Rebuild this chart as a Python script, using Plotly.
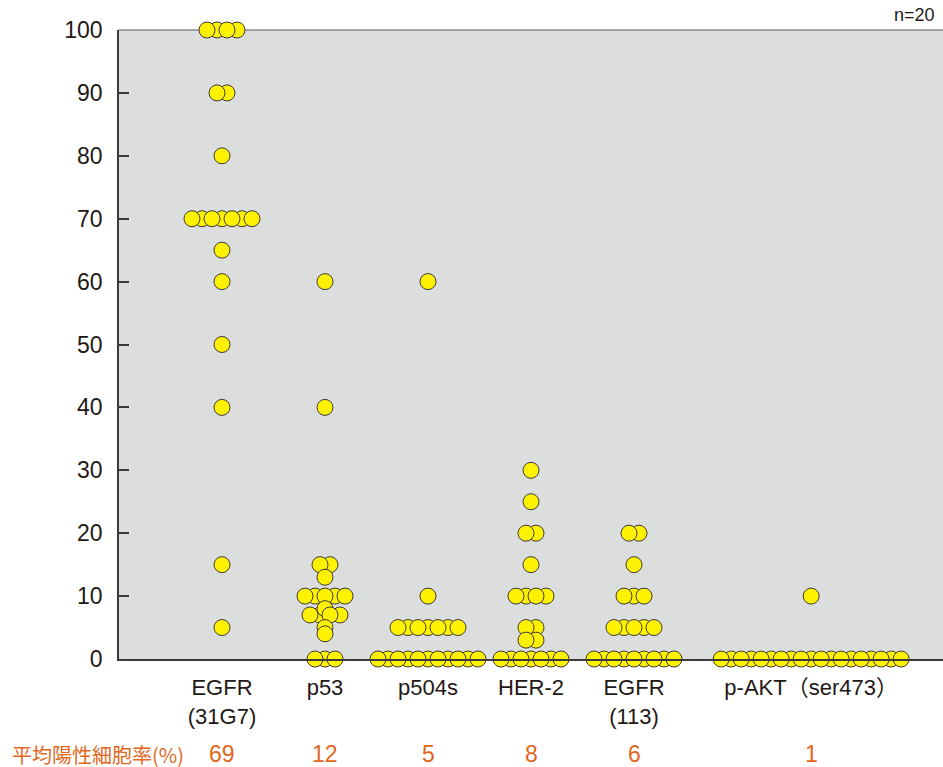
import plotly.graph_objects as go

# ---------------- data ----------------
categories = ["EGFR<br>(31G7)", "p53", "p504s", "HER-2", "EGFR<br>(113)", "p-AKT（ser473）"]
cat_positions = [1, 2, 3, 4, 5, 6.72]

egfr_31g7 = [100, 100, 100, 100, 90, 90, 80, 70, 70, 70, 70, 70, 70, 70, 65, 60, 50, 40, 15, 5]
p53 = [60, 40, 15, 15, 13, 10, 10, 10, 10, 10, 8, 7, 7, 7, 7, 5, 4, 0, 0, 0]
p504s = [60, 10, 5, 5, 5, 5, 5, 5, 5, 0, 0, 0, 0, 0, 0, 0, 0, 0, 0, 0]
her2 = [30, 25, 20, 20, 15, 10, 10, 10, 10, 5, 5, 3, 3, 0, 0, 0, 0, 0, 0, 0]
egfr_113 = [20, 20, 15, 10, 10, 10, 5, 5, 5, 5, 5, 0, 0, 0, 0, 0, 0, 0, 0, 0]
p_akt = [10, 0, 0, 0, 0, 0, 0, 0, 0, 0, 0, 0, 0, 0, 0, 0, 0, 0, 0, 0]
series = [egfr_31g7, p53, p504s, her2, egfr_113, p_akt]

mean_rates = [69, 12, 5, 8, 6, 1]
y_ticks = [0, 10, 20, 30, 40, 50, 60, 70, 80, 90, 100]
n_label = "n=20"
mean_title = "平均陽性細胞率(%)"

# ---------------- layout helpers ----------------
W, H = 943, 767
ML, MR, MT, MB = 119, 0, 30, 108
x_range = [0, 8]
px_per_unit = (W - ML - MR) / (x_range[1] - x_range[0])
dot_step = 10.0 / px_per_unit   # horizontal spacing of stacked dots

xs, ys, zs = [], [], []
for pos, vals in zip(cat_positions, series):
    counts = {}
    for v in vals:
        counts[v] = counts.get(v, 0) + 1
    for v, n in counts.items():
        for i in range(n):
            xs.append(pos + (i - (n - 1) / 2) * dot_step)
            ys.append(v)
            zs.append(1 if i % 2 == 0 else 0)

order = sorted(range(len(xs)), key=lambda k: zs[k])
xs = [xs[k] for k in order]
ys = [ys[k] for k in order]

dark = "#3e3a39"
text_dark = "#231815"
orange = "#e2671c"
font_latin = "Liberation Sans, Arial, Noto Sans CJK JP"

fig = go.Figure()
fig.add_trace(go.Scatter(
    x=xs, y=ys, mode="markers",
    marker=dict(symbol="circle", size=16, color="#fff200",
                line=dict(color=dark, width=1)),
    cliponaxis=False, showlegend=False, hoverinfo="y",
))

y_mean_row = (H - MB - 754) / (H - MB - MT)
annotations = [
    dict(text=str(m), x=p, xref="x", y=y_mean_row, yref="paper",
         showarrow=False, xanchor="center", yanchor="middle",
         font=dict(family=font_latin, size=23, color=orange))
    for p, m in zip(cat_positions, mean_rates)
]
annotations.append(dict(text=mean_title, x=(10 - ML) / (W - ML - MR), xref="paper",
                        y=y_mean_row, yref="paper", showarrow=False,
                        xanchor="left", yanchor="middle",
                        font=dict(family="Noto Sans CJK JP", size=20, color=orange)))
annotations.append(dict(text=n_label, x=(937 - ML) / (W - ML - MR), xref="paper",
                        y=1.0, yref="paper", yshift=15, showarrow=False,
                        xanchor="right", yanchor="middle",
                        font=dict(family=font_latin, size=18, color=text_dark)))

fig.update_layout(
    width=W, height=H,
    margin=dict(l=ML, r=MR, t=MT, b=MB, pad=0),
    paper_bgcolor="white", plot_bgcolor="#dcdddd",
    font=dict(family=font_latin, color=text_dark),
    xaxis=dict(range=x_range, showgrid=False, zeroline=False,
               showline=True, linecolor=dark, linewidth=1.5,
               tickmode="array", tickvals=cat_positions, ticktext=categories,
               ticks="", ticklabelstandoff=8,
               tickfont=dict(family=font_latin, size=22, color=text_dark)),
    yaxis=dict(range=[0, 100], showgrid=False, zeroline=False,
               showline=True, linecolor=dark, linewidth=1.5,
               tickmode="array", tickvals=y_ticks,
               ticks="inside", ticklen=10, tickwidth=1.5, tickcolor=dark,
               ticklabelstandoff=10,
               tickfont=dict(family=font_latin, size=23, color=text_dark)),
    shapes=[dict(type="line", xref="paper", yref="paper", x0=0, x1=1, y0=1, y1=1,
                 line=dict(color="#8c8c8c", width=1.5), layer="below")],
    annotations=annotations,
)

fig.write_html(
    "out.html",
    config={"displayModeBar": False},
    post_script="document.body.style.margin='0';document.body.style.overflow='hidden';",
)
